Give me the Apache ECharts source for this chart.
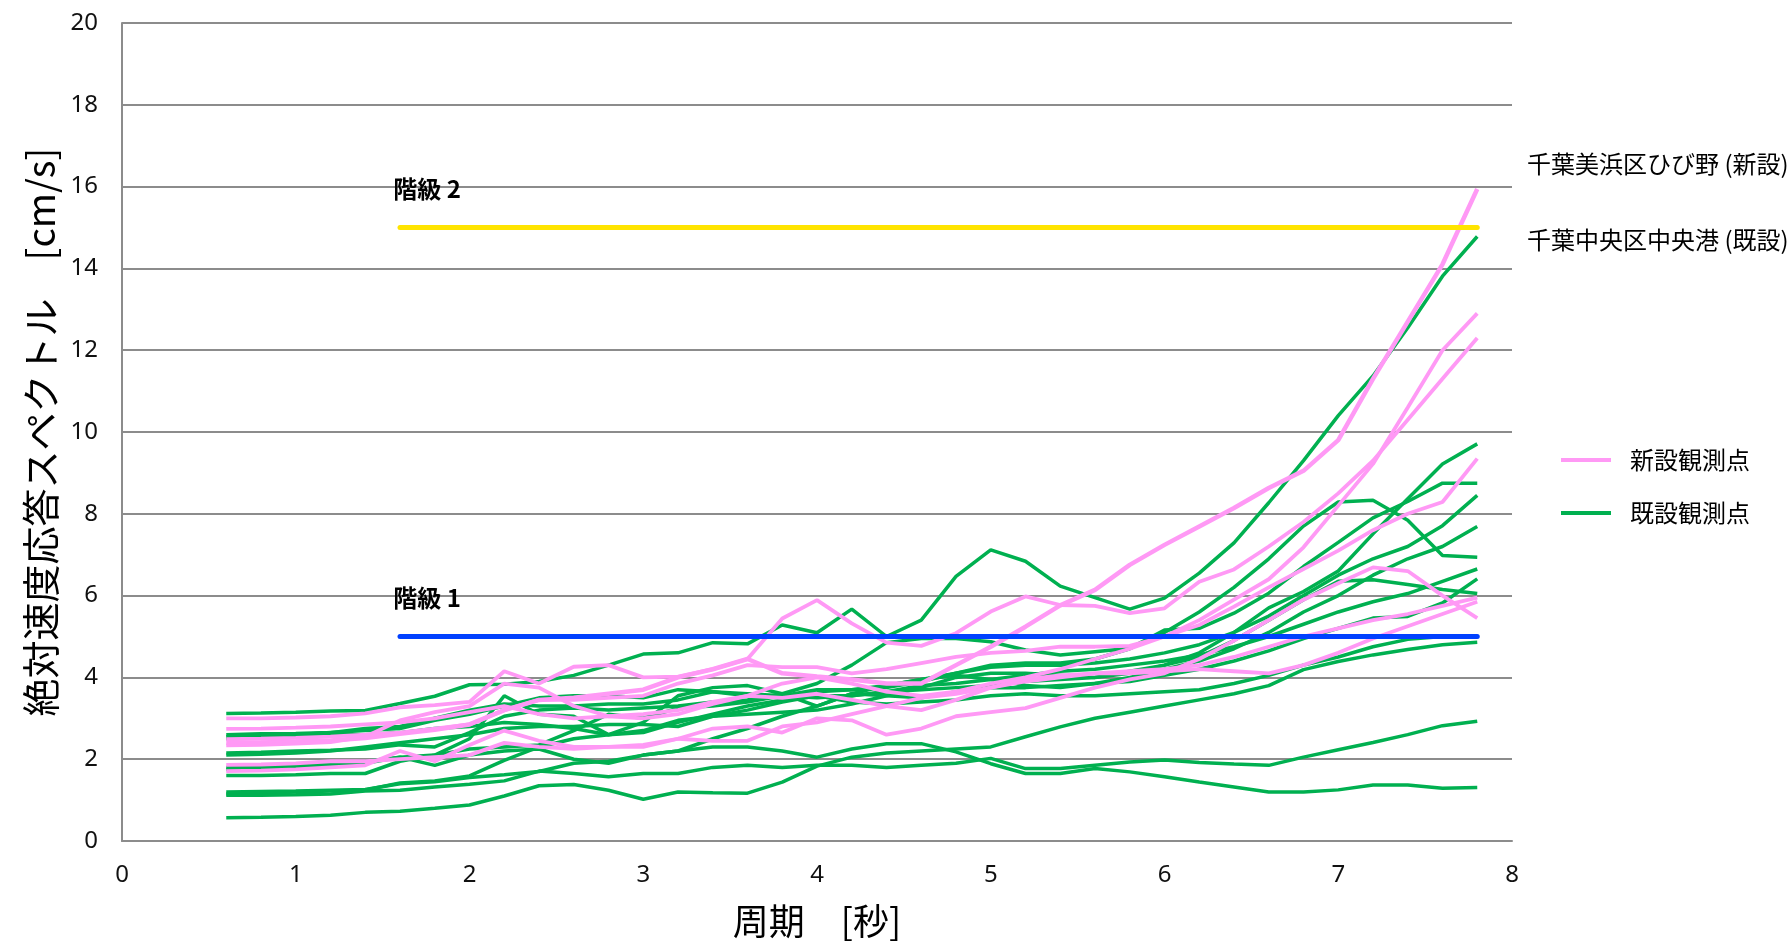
<!DOCTYPE html>
<html>
<head>
<meta charset="utf-8">
<script src="https://cdn.jsdelivr.net/npm/echarts@6/dist/echarts.min.js"></script>
<style>
html,body{margin:0;padding:0;background:#fff;}
#chart{width:1789px;height:942px;}
</style>
</head>
<body>
<div id="chart"></div>
<script>
// ---- data ----
const periods = [0.6,0.8,1.0,1.2,1.4,1.6,1.8,2.0,2.2,2.4,2.6,2.8,3.0,3.2,3.4,3.6,3.8,4.0,4.2,4.4,4.6,4.8,5.0,5.2,5.4,5.6,5.8,6.0,6.2,6.4,6.6,6.8,7.0,7.2,7.4,7.6,7.8];

// 新設観測点 (pink)
const newHibino = [2.40,2.41,2.43,2.46,2.52,2.62,2.72,2.85,3.20,3.45,3.50,3.60,3.70,4.00,4.20,4.45,4.10,4.02,3.95,3.85,3.85,4.30,4.75,5.24,5.76,6.14,6.75,7.24,7.69,8.14,8.63,9.05,9.80,11.30,12.70,14.10,15.94];
const new2 = [3.00,3.00,3.02,3.05,3.12,3.27,3.32,3.40,4.15,3.85,4.26,4.30,4.00,4.02,4.20,4.45,5.44,5.89,5.32,4.85,4.77,5.08,5.61,5.98,5.77,5.75,5.57,5.69,6.34,6.64,7.20,7.80,8.50,9.30,10.30,11.30,12.30];
const new3 = [2.34,2.35,2.38,2.42,2.55,2.95,3.15,3.30,3.85,3.75,3.30,3.05,3.00,3.10,3.35,3.55,3.85,4.00,3.85,3.65,3.55,3.65,3.85,4.00,4.20,4.45,4.70,5.00,5.40,5.90,6.40,7.18,8.20,9.22,10.60,12.00,12.90];
const new4 = [2.49,2.50,2.52,2.55,2.60,2.65,2.75,2.85,3.20,3.45,3.45,3.50,3.55,3.85,4.05,4.30,4.25,4.25,4.10,4.20,4.35,4.50,4.60,4.65,4.75,4.75,4.77,5.00,5.28,5.73,6.20,6.65,7.10,7.60,8.00,8.29,9.35];
const new5 = [1.71,1.72,1.75,1.80,1.85,2.20,1.95,2.35,2.70,2.45,2.30,2.30,2.35,2.50,2.75,2.80,2.65,3.00,2.95,2.60,2.75,3.05,3.15,3.25,3.50,3.75,3.95,4.10,4.45,4.90,5.40,5.90,6.30,6.69,6.60,6.00,5.45];
const new6 = [2.74,2.75,2.77,2.80,2.85,2.90,3.00,3.15,3.30,3.10,3.00,3.05,3.10,3.20,3.40,3.55,3.50,3.60,3.45,3.30,3.20,3.45,3.75,3.95,4.05,4.10,4.15,4.20,4.30,4.50,4.75,5.00,5.20,5.40,5.55,5.75,5.95];
const new7 = [1.86,1.87,1.90,1.95,1.95,2.00,2.05,2.10,2.40,2.30,2.25,2.30,2.30,2.50,2.45,2.45,2.80,2.90,3.10,3.30,3.50,3.60,3.75,3.90,4.00,4.10,4.10,4.15,4.20,4.15,4.10,4.30,4.60,4.95,5.25,5.55,5.85];

// 既設観測点 (green)
const oldChuoko = [3.12,3.13,3.15,3.18,3.19,3.36,3.54,3.82,3.83,3.90,4.05,4.30,4.57,4.60,4.85,4.82,5.28,5.09,5.67,5.00,5.40,6.47,7.12,6.84,6.23,5.95,5.67,5.94,6.55,7.29,8.27,9.30,10.40,11.37,12.55,13.81,14.78];
const old2 = [2.60,2.62,2.63,2.65,2.70,2.75,2.95,3.10,3.30,3.50,3.55,3.55,3.50,3.70,3.65,3.60,3.55,3.50,3.55,3.65,3.70,3.75,3.80,3.90,3.95,4.00,4.10,4.30,4.60,5.10,5.70,6.10,6.60,7.51,8.37,9.22,9.71];
const old3 = [2.15,2.17,2.20,2.22,2.25,2.35,2.30,2.65,3.05,3.20,3.25,3.20,3.25,3.30,3.40,3.45,3.60,3.85,4.30,4.85,4.95,4.95,4.87,4.67,4.55,4.63,4.71,5.16,5.20,5.57,6.06,6.71,7.30,7.90,8.30,8.75,8.75];
const old4 = [1.80,1.82,1.85,1.90,1.95,2.05,2.10,2.25,2.30,2.35,2.70,3.10,3.00,3.25,3.30,3.40,3.55,3.70,3.70,3.80,3.95,4.10,4.25,4.30,4.30,4.35,4.45,4.60,4.80,5.10,5.50,6.00,6.50,6.90,7.20,7.71,8.45];
const old5 = [2.55,2.57,2.60,2.65,2.75,2.80,3.00,3.20,3.35,3.30,3.30,3.35,3.35,3.45,3.65,3.55,3.50,3.65,3.70,3.75,3.90,4.10,4.30,4.35,4.35,4.45,4.70,5.10,5.60,6.20,6.90,7.70,8.29,8.33,7.84,6.98,6.94];
const old6 = [1.60,1.60,1.62,1.65,1.65,1.95,2.10,2.50,3.55,3.10,3.05,2.60,2.90,3.55,3.75,3.80,3.60,3.30,3.60,3.80,3.95,4.05,3.95,3.80,3.75,3.85,4.00,4.20,4.40,4.70,5.10,5.60,6.00,6.50,6.90,7.20,7.69];
const old7 = [2.10,2.12,2.15,2.20,2.30,2.40,2.50,2.60,2.75,2.80,2.80,2.85,2.85,2.80,3.05,3.20,3.40,3.55,3.55,3.65,3.80,3.85,3.95,4.05,4.15,4.20,4.30,4.40,4.55,4.75,5.00,5.30,5.60,5.85,6.05,6.35,6.65];
const old8 = [1.75,1.77,1.80,1.85,1.90,2.05,1.85,2.10,2.20,2.25,2.00,1.90,2.10,2.20,2.50,2.75,3.05,3.30,3.60,3.55,3.50,3.65,3.75,3.75,3.80,3.85,3.90,4.05,4.20,4.40,4.65,4.95,5.20,5.45,5.49,5.82,6.41];
const old9 = [2.50,2.52,2.55,2.60,2.60,2.65,2.75,2.80,2.90,2.85,2.75,2.60,2.70,2.95,3.05,3.10,3.15,3.20,3.35,3.55,3.75,4.00,4.10,4.10,4.05,4.00,4.15,4.30,4.50,4.90,5.40,5.90,6.35,6.39,6.27,6.15,6.05];
const old10 = [1.15,1.17,1.20,1.22,1.25,1.42,1.47,1.59,1.97,2.30,2.50,2.60,2.65,2.90,3.10,3.30,3.45,3.55,3.40,3.35,3.40,3.45,3.55,3.60,3.55,3.55,3.60,3.65,3.70,3.85,4.05,4.30,4.50,4.75,4.93,5.00,5.00];
const old11 = [0.57,0.58,0.60,0.63,0.70,0.73,0.80,0.88,1.10,1.35,1.38,1.24,1.02,1.20,1.18,1.17,1.44,1.83,2.05,2.15,2.20,2.25,2.30,2.55,2.79,3.00,3.15,3.30,3.45,3.60,3.80,4.19,4.39,4.55,4.68,4.80,4.86];
const old12 = [1.12,1.12,1.13,1.15,1.22,1.24,1.32,1.39,1.47,1.71,1.65,1.57,1.65,1.65,1.80,1.85,1.80,1.85,1.85,1.80,1.85,1.90,2.02,1.77,1.77,1.85,1.93,1.98,1.92,1.88,1.85,2.05,2.23,2.41,2.60,2.82,2.93];
const old13 = [1.20,1.21,1.22,1.24,1.26,1.40,1.45,1.55,1.62,1.70,1.90,1.95,2.10,2.20,2.30,2.30,2.20,2.05,2.25,2.38,2.38,2.18,1.89,1.65,1.65,1.77,1.69,1.57,1.44,1.32,1.20,1.20,1.25,1.37,1.37,1.29,1.31];

const newSeries = [newHibino,new2,new3,new4,new5,new6,new7];
const oldSeries = [oldChuoko,old2,old3,old4,old5,old6,old7,old8,old9,old10,old11,old12,old13];

// level lines
const levelPeriods = [1.6, 7.8];
const level1 = [5, 5];
const level2 = [15, 15];
const levelNames = ['階級 1', '階級 2'];

const yTicks = [0,2,4,6,8,10,12,14,16,18,20];
const xTicks = [0,1,2,3,4,5,6,7,8];

const NEW_NAME = '新設観測点';
const OLD_NAME = '既設観測点';
const PINK = '#ff99f5';
const GREEN = '#00b050';

function pairs(xs, ys){ return xs.map((x,i)=>[x, ys[i]]); }

const series = [];
oldSeries.forEach(v=>{
  series.push({type:'line', name:OLD_NAME, data:pairs(periods,v), showSymbol:false, symbol:'none',
    lineStyle:{color:GREEN,width:3.5}, itemStyle:{color:GREEN}, silent:true, z:2});
});
newSeries.forEach(v=>{
  series.push({type:'line', name:NEW_NAME, data:pairs(periods,v), showSymbol:false, symbol:'none',
    lineStyle:{color:PINK,width:(v===newHibino?4.5:3.8)}, itemStyle:{color:PINK}, silent:true, z:3});
});
function levelSeries(ys, color){
  return {type:'line', name:'level', data:pairs(levelPeriods, ys), showSymbol:false, symbol:'none',
    lineStyle:{color:color,width:5,cap:'round'}, silent:true, z:4};
}
series.push(levelSeries(level2,'#ffe400'));
series.push(levelSeries(level1,'#0040ff'));
// labels for level lines, anchored at the start of each line
series.push({type:'scatter', name:'levelLabel', silent:true, z:5,
  symbol:'circle', symbolSize:2, itemStyle:{color:'rgba(0,0,0,0)'},
  data:[[levelPeriods[0], level1[0], levelNames[0]], [levelPeriods[0], level2[0], levelNames[1]]],
  label:{show:true, position:'top', distance:0, offset:[27,-26],
    formatter:p=>p.value[2], fontSize:24, fontWeight:'bold', color:'#000', opacity:1,
    fontFamily:"'Noto Sans CJK JP',sans-serif"}});

const chart = echarts.init(document.getElementById('chart'));
const tickFont = "'Noto Sans',sans-serif";
chart.setOption({
  animation:false,
  backgroundColor:'#fff',
  grid:{left:122,right:277,top:23,bottom:101,outerBoundsMode:'none',containLabel:false},
  xAxis:{type:'value',min:xTicks[0],max:xTicks[xTicks.length-1],interval:1,
    name:'周期　[秒]',nameLocation:'middle',nameGap:62,
    nameTextStyle:{fontSize:36,color:'#000',fontFamily:"'Noto Sans CJK JP',sans-serif"},
    axisLine:{show:true,lineStyle:{color:'#8c8c8c',width:2}},
    axisTick:{show:false},splitLine:{show:false},
    axisLabel:{fontSize:24,color:'#111',margin:22,fontFamily:tickFont}},
  yAxis:{type:'value',min:yTicks[0],max:yTicks[yTicks.length-1],interval:2,
    name:'絶対速度応答スペクトル　[cm/s]',nameLocation:'middle',nameGap:60,
    nameTextStyle:{fontSize:38,color:'#000',fontFamily:"'Noto Sans CJK JP',sans-serif"},
    axisLine:{show:true,lineStyle:{color:'#8c8c8c',width:2}},
    axisTick:{show:false},
    splitLine:{show:true,lineStyle:{color:'#8c8c8c',width:2}},
    axisLabel:{fontSize:24,color:'#111',margin:24,fontFamily:tickFont}},
  legend:{show:true,orient:'vertical',left:1556,top:443,
    data:[{name:NEW_NAME},{name:OLD_NAME}],
    icon:'rect',itemWidth:50,itemHeight:4,itemGap:29,
    textStyle:{fontSize:24,color:'#000',padding:[0,0,0,14],fontFamily:"'Noto Sans CJK JP',sans-serif"}},
  graphic:[
    {type:'text',left:1527,top:152,style:{text:'千葉美浜区ひび野 (新設)',fontSize:24,fill:'#000',fontFamily:"'Noto Sans CJK JP',sans-serif"}},
    {type:'text',left:1527,top:228,style:{text:'千葉中央区中央港 (既設)',fontSize:24,fill:'#000',fontFamily:"'Noto Sans CJK JP',sans-serif"}}
  ],
  series:series
});
</script>
</body>
</html>
